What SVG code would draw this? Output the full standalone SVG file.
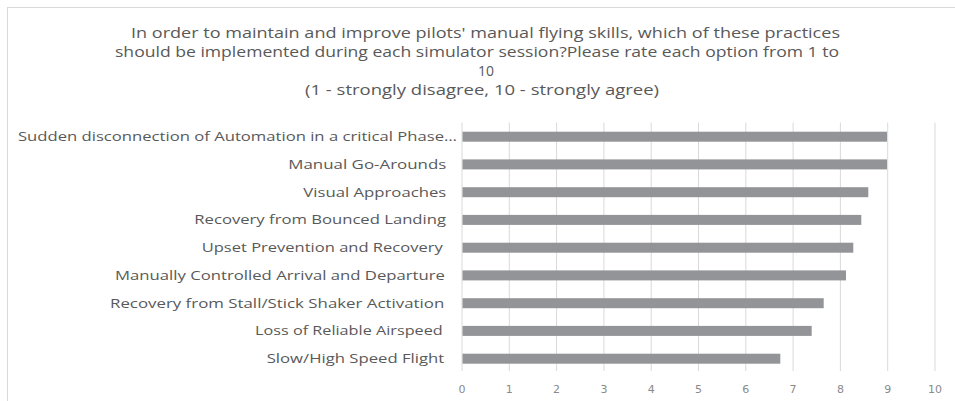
<svg xmlns="http://www.w3.org/2000/svg" width="955" height="401" viewBox="0 0 955 401">
<style>
.title{font-family:"Open Sans","Liberation Sans",sans-serif;font-size:15px;fill:#595959}
.lbl{font-family:"Open Sans","Liberation Sans",sans-serif;font-size:12.5px;fill:#595959}
.tick{font-family:"DejaVu Sans","Liberation Sans",sans-serif;font-size:11px;fill:#8a8a8a;text-anchor:middle}
.grid{stroke:#d9d9d9;stroke-width:1}
.bar{fill:#929497}
</style>
<rect x="0" y="0" width="955" height="401" fill="#ffffff"/>
<rect x="7.5" y="7.5" width="960" height="400" fill="none" stroke="#d9d9d9" stroke-width="1"/>
<g id="title">
<text class="title" x="131" y="37.5" textLength="709" lengthAdjust="spacingAndGlyphs">In order to maintain and improve pilots' manual flying skills, which of these practices</text>
<text class="title" x="115" y="57" textLength="724" lengthAdjust="spacingAndGlyphs">should be implemented during each simulator session?Please rate each option from 1 to</text>
<text class="title" x="478" y="76" textLength="16" lengthAdjust="spacingAndGlyphs">10</text>
<text class="title" x="305" y="95" textLength="354" lengthAdjust="spacingAndGlyphs">(1 - strongly disagree, 10 - strongly agree)</text>
</g>
<g id="gridlines">
<line class="grid" x1="462" y1="122.5" x2="462" y2="371"/>
<line class="grid" x1="509.3" y1="122.5" x2="509.3" y2="371"/>
<line class="grid" x1="556.6" y1="122.5" x2="556.6" y2="371"/>
<line class="grid" x1="603.9" y1="122.5" x2="603.9" y2="371"/>
<line class="grid" x1="651.2" y1="122.5" x2="651.2" y2="371"/>
<line class="grid" x1="698.5" y1="122.5" x2="698.5" y2="371"/>
<line class="grid" x1="745.8" y1="122.5" x2="745.8" y2="371"/>
<line class="grid" x1="793.1" y1="122.5" x2="793.1" y2="371"/>
<line class="grid" x1="840.4" y1="122.5" x2="840.4" y2="371"/>
<line class="grid" x1="887.7" y1="122.5" x2="887.7" y2="371"/>
<line class="grid" x1="935" y1="122.5" x2="935" y2="371"/>
</g>
<g id="axis">
<text class="tick" x="462" y="393">0</text>
<text class="tick" x="509.3" y="393">1</text>
<text class="tick" x="556.6" y="393">2</text>
<text class="tick" x="603.9" y="393">3</text>
<text class="tick" x="651.2" y="393">4</text>
<text class="tick" x="698.5" y="393">5</text>
<text class="tick" x="745.8" y="393">6</text>
<text class="tick" x="793.1" y="393">7</text>
<text class="tick" x="840.4" y="393">8</text>
<text class="tick" x="887.7" y="393">9</text>
<text class="tick" x="935" y="393">10</text>
</g>
<g id="row1"><rect class="bar" x="462.5" y="131.7" width="424.5" height="10"/><text class="lbl" x="18" y="141" textLength="439" lengthAdjust="spacingAndGlyphs">Sudden disconnection of Automation in a critical Phase…</text></g>
<g id="row2"><rect class="bar" x="462.5" y="159.4" width="424.5" height="10"/><text class="lbl" x="288.3" y="168.7" textLength="158" lengthAdjust="spacingAndGlyphs">Manual Go-Arounds</text></g>
<g id="row3"><rect class="bar" x="462.5" y="187.2" width="405.8" height="10"/><text class="lbl" x="303.3" y="196.5" textLength="143" lengthAdjust="spacingAndGlyphs">Visual Approaches</text></g>
<g id="row4"><rect class="bar" x="462.5" y="214.9" width="398.8" height="10"/><text class="lbl" x="194.3" y="224.2" textLength="251.7" lengthAdjust="spacingAndGlyphs">Recovery from Bounced Landing</text></g>
<g id="row5"><rect class="bar" x="462.5" y="242.7" width="390.8" height="10"/><text class="lbl" x="201.7" y="252" textLength="241" lengthAdjust="spacingAndGlyphs">Upset Prevention and Recovery</text></g>
<g id="row6"><rect class="bar" x="462.5" y="270.4" width="383.5" height="10"/><text class="lbl" x="115" y="279.7" textLength="330" lengthAdjust="spacingAndGlyphs">Manually Controlled Arrival and Departure</text></g>
<g id="row7"><rect class="bar" x="462.5" y="298.2" width="361.2" height="10"/><text class="lbl" x="110" y="307.5" textLength="334.3" lengthAdjust="spacingAndGlyphs">Recovery from Stall/Stick Shaker Activation</text></g>
<g id="row8"><rect class="bar" x="462.5" y="325.9" width="349.2" height="10"/><text class="lbl" x="255" y="335.2" textLength="187.7" lengthAdjust="spacingAndGlyphs">Loss of Reliable Airspeed</text></g>
<g id="row9"><rect class="bar" x="462.5" y="353.7" width="317.8" height="10"/><text class="lbl" x="266.7" y="363" textLength="177.6" lengthAdjust="spacingAndGlyphs">Slow/High Speed Flight</text></g>
</svg>
